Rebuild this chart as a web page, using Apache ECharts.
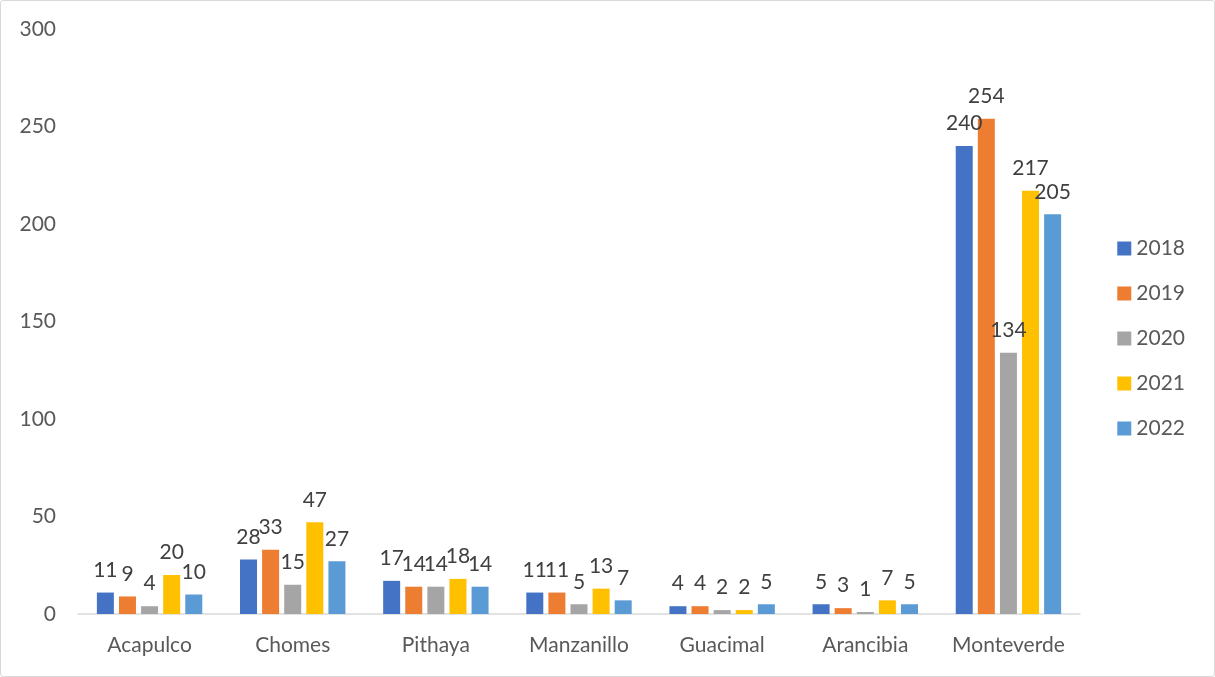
<!DOCTYPE html>
<html>
<head>
<meta charset="utf-8">
<script src="https://cdn.jsdelivr.net/npm/echarts@6/dist/echarts.min.js"></script>
<style>
  html, body { margin: 0; padding: 0; background: #fff; }
  #chart { width: 1213px; height: 675px; border: 1px solid #d9d9d9; border-radius: 3px; }
</style>
</head>
<body>
<div id="chart"></div>
<script>
const categories = ['Acapulco', 'Chomes', 'Pithaya', 'Manzanillo', 'Guacimal', 'Arancibia', 'Monteverde'];
const years = ['2018', '2019', '2020', '2021', '2022'];
const v2018 = [11, 28, 17, 11, 4, 5, 240];
const v2019 = [9, 33, 14, 11, 4, 3, 254];
const v2020 = [4, 15, 14, 5, 2, 1, 134];
const v2021 = [20, 47, 18, 13, 2, 7, 217];
const v2022 = [10, 27, 14, 7, 5, 5, 205];
const yTicks = { min: 0, max: 300, interval: 50 };

const colors = ['#4472c4', '#ed7d31', '#a5a5a5', '#ffc000', '#5b9bd5'];
const values = [v2018, v2019, v2020, v2021, v2022];
const fontFamily = 'Lato, "Open Sans", sans-serif';
const fontSize = 21;

const chart = echarts.init(document.getElementById('chart'));
chart.setOption({
  animation: false,
  color: colors,
  textStyle: { fontFamily: fontFamily },
  grid: { left: 77, right: 134, top: 28, bottom: 62 },
  legend: {
    orient: 'vertical',
    right: 24,
    top: 'middle',
    itemWidth: 14,
    itemHeight: 14,
    itemGap: 24,
    icon: 'rect',
    textStyle: { fontSize: fontSize, color: '#595959', fontFamily: fontFamily },
    data: years
  },
  xAxis: {
    type: 'category',
    data: categories,
    axisLine: { lineStyle: { color: '#d9d9d9', width: 1.5 } },
    axisTick: { show: false },
    axisLabel: { interval: 0, fontSize: fontSize, color: '#595959', margin: 21, fontFamily: fontFamily }
  },
  yAxis: {
    type: 'value',
    min: yTicks.min,
    max: yTicks.max,
    interval: yTicks.interval,
    axisLine: { show: false },
    axisTick: { show: false },
    splitLine: { show: false },
    axisLabel: { fontSize: fontSize, color: '#595959', margin: 22, fontFamily: fontFamily }
  },
  series: years.map((y, i) => ({
    name: y,
    type: 'bar',
    data: values[i],
    barWidth: 17,
    barGap: '30%',
    label: {
      show: true,
      position: 'top',
      distance: 12,
      fontSize: fontSize,
      color: '#404040',
      fontFamily: fontFamily
    }
  }))
});
</script>
</body>
</html>
